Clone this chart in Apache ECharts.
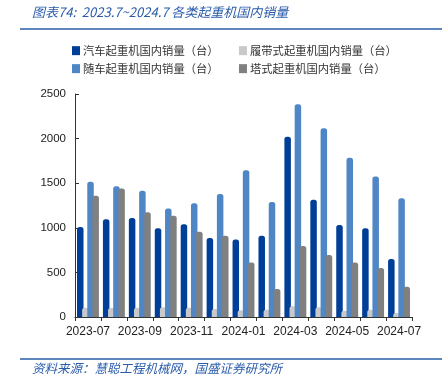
<!DOCTYPE html>
<html>
<head>
<meta charset="utf-8">
<script src="https://cdn.jsdelivr.net/npm/echarts@6/dist/echarts.min.js"></script>
<style>html,body{margin:0;padding:0;background:#fff;}#c{width:442px;height:384px;}</style>
</head>
<body>
<div id="c"></div>
<script>
const categories = ['2023-07','2023-08','2023-09','2023-10','2023-11','2023-12','2024-01','2024-02','2024-03','2024-04','2024-05','2024-06','2024-07'];
const seriesNames = ['汽车起重机国内销量（台）','履带式起重机国内销量（台）','随车起重机国内销量（台）','塔式起重机国内销量（台）'];
const truckCrane = [1010,1095,1110,995,1040,885,870,910,2020,1315,1030,995,650];
const crawlerCrane = [105,100,105,110,105,90,75,80,120,110,70,80,45];
const truckMountedCrane = [1515,1465,1415,1215,1275,1380,1645,1290,2385,2115,1785,1575,1330];
const towerCrane = [1360,1440,1175,1135,955,910,610,315,795,695,610,550,340];
const yTicks = [0,500,1000,1500,2000,2500];
const titleText = '图表74:  2023.7~2024.7 各类起重机国内销量';
const sourceText = '资料来源：慧聪工程机械网，国盛证券研究所';

const colors = ['#003F98','#C9C9C9','#4F86C6','#808080'];
const seriesData = [truckCrane, crawlerCrane, truckMountedCrane, towerCrane];
const blue = '#2A5CAA';
const cjk = '"Noto Sans CJK SC", sans-serif';
const latin = '"Liberation Sans", Arial, sans-serif';

const legendPos = [[72,45],[239,45],[72,63],[239,63]];

const chart = echarts.init(document.getElementById('c'), null, {renderer:'canvas'});
chart.setOption({
  animation: false,
  backgroundColor: '#fff',
  color: colors,
  legend: seriesNames.map((n,i)=>({
    data:[n], left: legendPos[i][0], top: legendPos[i][1],
    icon:'rect', itemWidth:8, itemHeight:9, padding:0,
    textStyle:{fontSize:11.3, color:'#333', fontFamily:cjk, padding:[0,0,0,-2]}
  })),
  grid: {left:75, right:30, top:94, bottom:67, containLabel:false},
  xAxis: {
    type:'category', data:categories,
    axisLine:{lineStyle:{color:'#333', width:1}},
    axisTick:{show:true, alignWithLabel:false, length:4, interval:0, lineStyle:{color:'#333'}},
    axisLabel:{interval:1, color:'#222', fontSize:12, fontFamily:latin, margin:9}
  },
  yAxis: {
    type:'value', min:yTicks[0], max:yTicks[yTicks.length-1], interval:500,
    axisLine:{show:true, lineStyle:{color:'#333', width:1}},
    axisTick:{show:true, inside:true, length:4, lineStyle:{color:'#333'}},
    splitLine:{show:false},
    axisLabel:{color:'#222', fontSize:11.5, fontFamily:latin, margin:9, formatter:(v)=>String(v)}
  },
  series: seriesNames.map((n,i)=>({
    name:n, type:'bar', data:seriesData[i],
    barWidth:6.5, barGap:'-21%',
    itemStyle:{color:colors[i], borderRadius:[2.5,2.5,0,0]}
  })),
  graphic: [
    {type:'text', left:32, top:6, style:{text:titleText, fill:blue, font:'italic 13px '+cjk}},
    {type:'line', shape:{x1:20,y1:29,x2:442,y2:29}, style:{stroke:blue, lineWidth:1.5}},
    {type:'line', shape:{x1:20,y1:359,x2:442,y2:359}, style:{stroke:blue, lineWidth:1.5}},
    {type:'text', left:32, top:362, style:{text:sourceText, fill:blue, font:'italic 12.5px '+cjk}}
  ]
});
</script>
</body>
</html>
